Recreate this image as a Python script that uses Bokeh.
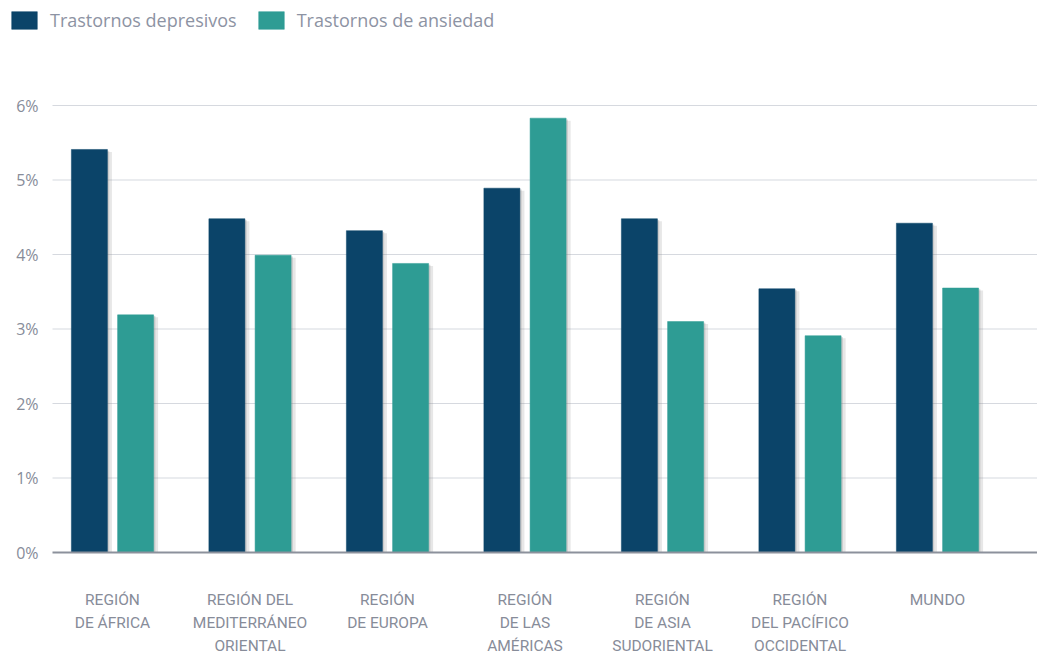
import numpy as np
from bokeh.plotting import figure
from bokeh.models import ColumnDataSource, Legend, LegendItem, Range1d
from bokeh.core.properties import value
from bokeh.embed import file_html
from bokeh.resources import INLINE

# ---------------- data ----------------
regions = [
    "REGIÓN\nDE ÁFRICA",
    "REGIÓN DEL\nMEDITERRÁNEO\nORIENTAL",
    "REGIÓN\nDE EUROPA",
    "REGIÓN\nDE LAS\nAMÉRICAS",
    "REGIÓN\nDE ASIA\nSUDORIENTAL",
    "REGIÓN\nDEL PACÍFICO\nOCCIDENTAL",
    "MUNDO",
]
depresivos = [5.41, 4.48, 4.32, 4.89, 4.48, 3.54, 4.42]
ansiedad = [3.19, 3.99, 3.88, 5.83, 3.10, 2.91, 3.55]
series_names = ["Trastornos depresivos", "Trastornos de ansiedad"]
y_ticks = [0, 1, 2, 3, 4, 5, 6]
y_tick_labels = ["0%", "1%", "2%", "3%", "4%", "5%", "6%"]

# ---------------- layout / style ----------------
W, H = 1037, 656
PX_X = 137.5          # pixels per category unit
PX_Y = 74.5           # pixels per 1%
X0_PX, Y0_PX = 112, 552   # pixel position of first group centre / zero line
x_start = -X0_PX / PX_X
x_end = x_start + W / PX_X
y_end = Y0_PX / PX_Y
y_start = -(H - Y0_PX) / PX_Y
grid_left = x_start + 52 / PX_X
label_right = x_start + 38 / PX_X
cat_label_y = -(590 - Y0_PX) / PX_Y

DARK = "#0b4469"
TEAL = "#2e9c94"
TEXT = "#878c99"
GRID = "#d6d9df"
BASE = "#8c919c"
OFF = 0.168
BW = 0.262

xs = np.arange(len(regions))

p = figure(width=W, height=H, output_backend="svg", toolbar_location=None,
           x_range=Range1d(x_start, x_end), y_range=Range1d(y_start, y_end),
           min_border=0, min_border_left=0, min_border_right=0,
           min_border_top=0, min_border_bottom=0)
p.axis.visible = False
p.xgrid.visible = False
p.ygrid.visible = False
p.outline_line_color = None
p.background_fill_color = "white"
p.border_fill_color = "white"

# grid lines
grid_src = ColumnDataSource(dict(
    x0=[grid_left] * (len(y_ticks) - 1), x1=[x_end] * (len(y_ticks) - 1), y=y_ticks[1:]))
p.segment(x0="x0", y0="y", x1="x1", y1="y", source=grid_src, line_color=GRID, line_width=1.2)

# tick labels
tick_src = ColumnDataSource(dict(x=[label_right] * len(y_ticks), y=y_ticks, t=y_tick_labels))
p.text(x="x", y="y", text="t", source=tick_src, text_align="right", text_baseline="middle",
       text_font=value("Open Sans"), text_font_size="16px", text_color=TEXT)

# shadows
sx = 3.0 / PX_X
sy = 2.5 / PX_Y
for off, vals in ((-OFF, depresivos), (OFF, ansiedad)):
    shadow = ColumnDataSource(dict(x=xs + off + sx, top=np.array(vals) - sy))
    p.vbar(x="x", top="top", bottom=0, width=BW + 3 / PX_X, source=shadow,
           fill_color="#888888", fill_alpha=0.2, line_color=None)
    shadow2 = ColumnDataSource(dict(x=xs + off + sx * 0.6, top=np.array(vals) - sy * 0.5))
    p.vbar(x="x", top="top", bottom=0, width=BW, source=shadow2,
           fill_color="#777777", fill_alpha=0.25, line_color=None)

# bars
src_d = ColumnDataSource(dict(x=xs - OFF, top=depresivos))
src_a = ColumnDataSource(dict(x=xs + OFF, top=ansiedad))
r_d = p.vbar(x="x", top="top", bottom=0, width=BW, source=src_d,
             fill_color=DARK, line_color=DARK, line_width=0.5)
r_a = p.vbar(x="x", top="top", bottom=0, width=BW, source=src_a,
             fill_color=TEAL, line_color=TEAL, line_width=0.5)

# baseline
base_src = ColumnDataSource(dict(x0=[grid_left], x1=[x_end], y=[0]))
p.segment(x0="x0", y0="y", x1="x1", y1="y", source=base_src, line_color=BASE, line_width=2.2)

# category labels
cat_src = ColumnDataSource(dict(x=xs, y=[cat_label_y] * len(xs), t=regions))
p.text(x="x", y="y", text="t", source=cat_src, text_align="center", text_baseline="top",
       text_font=value("Roboto"), text_font_size="15.5px", text_color=TEXT,
       text_line_height=1.3)

# legend
legend = Legend(items=[LegendItem(label=series_names[0], renderers=[r_d]),
                       LegendItem(label=series_names[1], renderers=[r_a])],
                orientation="horizontal", location="top_left",
                glyph_width=32, glyph_height=22, label_standoff=10, spacing=18,
                margin=8, padding=2,
                label_text_font="Open Sans", label_text_font_size="18px",
                label_text_color="#8d93a3",
                background_fill_alpha=0, border_line_color=None)
p.add_layout(legend)

open("out.html", "w").write(file_html(p, INLINE))
